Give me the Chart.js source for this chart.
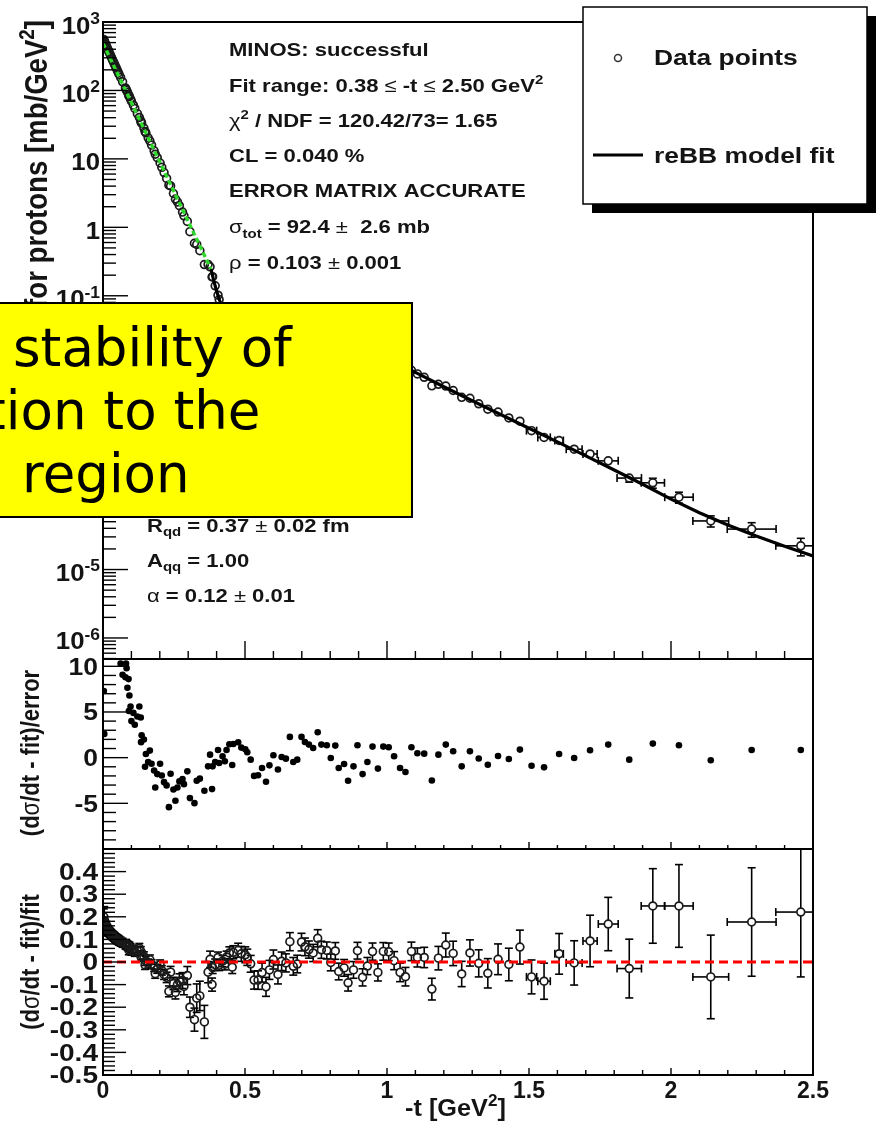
<!DOCTYPE html>
<html>
<head>
<meta charset="utf-8">
<script src="https://cdn.jsdelivr.net/npm/chart.js@4.4.1/dist/chart.umd.min.js"></script>
<style>
  html, body { margin: 0; padding: 0; background: #fff; width: 877px; height: 1123px; overflow: hidden; }
  canvas { position: absolute; left: 0; top: 0; }
</style>
</head>
<body>
<canvas id="cTop" width="877" height="1123"></canvas>
<canvas id="cPull" width="877" height="1123"></canvas>
<canvas id="cRel" width="877" height="1123"></canvas>
<script>
// ---- measured points: -t [GeV^2] ----
const tVals = [
  0.003,0.0045,0.006,0.0075,0.009,0.011,0.013,0.015,0.017,0.019,0.021,0.024,0.027,0.030,0.033,0.036,0.039,0.042,0.045,0.048,0.051,0.054,0.057,
  0.062,0.069,0.079,0.081,0.083,0.086,0.090,0.091,0.093,0.097,
  0.100,0.107,0.112,0.121,0.128,0.133,0.134,0.136,0.144,0.148,
  0.151,0.159,0.165,0.171,0.180,0.184,0.191,0.201,0.207,0.215,
  0.224,0.232,0.238,0.248,0.255,0.262,0.269,0.280,0.285,0.297,
  0.306,0.322,0.330,0.341,0.357,0.370,0.377,0.384,0.386,0.395,
  0.405,0.409,0.421,0.429,0.435,0.445,0.455,0.459,0.476,0.487,
  0.501,0.508,
  0.520,0.532,0.546,0.560,0.574,0.586,0.600,0.616,0.629,0.644,
  0.658,0.670,0.684,0.699,0.711,0.725,0.740,0.756,0.769,0.788,
  0.802,0.818,0.830,0.849,0.863,0.882,0.896,0.914,0.931,0.949,
  0.968,0.987,1.006,1.025,1.046,1.065,1.086,1.107,
  1.131,1.158,1.181,1.207,1.233,1.263,1.292,1.323,1.355,1.391,
  1.429,1.468,1.509,1.553,1.606,1.659,1.715,1.779,1.853,1.936,
  2.028,2.140,2.284,2.457
];
// horizontal half-widths of the t bins
const tErrVals = [
  0.002,0.002,0.002,0.002,0.002,0.002,0.002,0.002,0.002,0.002,0.002,0.002,0.002,0.002,0.002,0.002,0.002,0.002,0.002,0.002,0.002,0.002,0.002,
  0.003,0.003,0.003,0.003,0.003,0.003,0.003,0.003,0.003,0.003,
  0.003,0.003,0.003,0.003,0.003,0.003,0.003,0.003,0.003,0.003,
  0.003,0.003,0.003,0.003,0.003,0.003,0.003,0.003,0.003,0.003,
  0.003,0.003,0.003,0.003,0.003,0.003,0.003,0.003,0.003,0.003,
  0.004,0.004,0.004,0.004,0.004,0.004,0.004,0.004,0.004,0.004,
  0.004,0.004,0.004,0.004,0.004,0.004,0.004,0.004,0.004,0.004,
  0.004,0.004,
  0.006,0.006,0.006,0.006,0.006,0.006,0.006,0.006,0.006,0.006,
  0.006,0.006,0.006,0.006,0.006,0.006,0.006,0.006,0.006,0.006,
  0.006,0.006,0.006,0.006,0.006,0.006,0.006,0.006,0.006,0.006,
  0.006,0.006,0.006,0.006,0.006,0.006,0.006,0.006,
  0.008,0.008,0.008,0.012,0.012,0.012,0.012,0.012,0.012,0.012,
  0.012,0.014,0.018,0.022,0.015,0.028,0.025,0.035,0.043,0.041,
  0.050,0.063,0.086,0.088
];
// d(sigma)/dt [mb/GeV^2]
const dsdtVals = [
  553,528,508,491,474,455,435,416,397,381,365,343,322,302,283,266,249,234,220,207,194,182,171,
  154.7,133.7,108.8,104.8,100.4,94.3,86.7,83.6,81.6,74.8,
  69.7,60.8,54.6,45.8,40.3,36.0,34.4,33.3,28.2,25.1,
  24.0,20.3,18.3,15.9,13.1,11.7,10.4,8.71,7.53,6.30,
  5.19,4.13,4.02,3.12,2.59,2.35,2.07,1.67,1.47,1.22,
  0.865,0.585,0.563,0.456,0.286,0.287,0.265,0.188,0.190,0.140,
  0.102,0.0879,0.0648,0.0532,0.0478,0.0395,0.0302,0.0301,0.0230,0.0197,
  0.0171,0.0162,
  0.0143,0.0128,0.0128,0.0138,0.0138,0.0156,0.0180,0.0184,0.0210,0.0223,
  0.0255,0.0241,0.0249,0.0286,0.0284,0.0283,0.0280,0.0297,0.0277,0.0270,
  0.0251,0.0252,0.0222,0.0213,0.0190,0.0190,0.0198,0.0164,0.0161,0.0158,
  0.0133,0.0135,0.0126,0.0110,0.00954,0.00853,0.00813,0.00722,
  0.00644,0.00483,0.00509,0.0048,0.00413,0.00328,0.00318,0.00264,0.0022,0.0020,
  0.00164,0.00147,0.00107,0.000853,0.000768,0.000573,0.000488,0.000387,0.000217,0.000185,
  0.000114,5.13e-5,3.90e-5,2.22e-5
];
// (dsigma/dt - fit)/fit
const relVals = [
  0.200,0.180,0.170,0.165,0.160,0.155,0.150,0.145,0.140,0.137,0.133,0.130,0.126,0.122,0.118,0.115,0.112,0.108,0.105,0.102,0.100,0.097,0.094,
  0.090,0.085,0.078,0.080,0.076,0.073,0.070,0.052,0.068,0.062,
  0.050,0.055,0.045,0.050,0.062,0.048,0.022,0.030,0.025,-0.013,
  0.005,-0.007,0.011,-0.010,-0.022,-0.052,-0.030,-0.012,-0.037,-0.055,
  -0.068,-0.130,-0.045,-0.095,-0.135,-0.100,-0.085,-0.082,-0.108,-0.060,
  -0.200,-0.255,-0.160,-0.150,-0.265,-0.045,0.012,-0.100,-0.025,-0.012,
  0.020,-0.014,0.004,-0.010,0.022,0.040,-0.023,0.043,0.052,0.036,
  0.032,0.021,
  -0.008,-0.080,-0.080,-0.047,-0.110,-0.035,0.011,-0.055,0.003,-0.004,
  0.090,-0.019,-0.009,0.088,0.067,0.055,0.040,0.105,0.054,0.051,
  -0.002,0.049,-0.042,-0.026,-0.092,-0.035,0.050,-0.068,-0.018,0.046,
  -0.046,0.047,0.045,0.006,-0.046,-0.065,0.047,0.020,
  0.020,-0.120,0.017,0.075,0.038,-0.053,0.040,-0.006,-0.050,0.012,
  -0.011,0.066,-0.066,-0.085,0.036,-0.004,0.093,0.168,-0.029,0.248,
  0.248,-0.066,0.177,0.221
];
// total relative uncertainty of each point
const relErrVals = [
  0.035,0.065,0.022,0.022,0.022,0.021,0.021,0.021,0.021,0.020,0.020,0.020,0.020,0.020,0.020,0.020,0.020,0.020,0.020,0.020,0.020,0.020,0.020,
  0.020,0.020,0.020,0.020,0.020,0.020,0.020,0.020,0.020,0.020,
  0.020,0.020,0.020,0.020,0.020,0.020,0.020,0.020,0.020,0.020,
  0.020,0.020,0.020,0.020,0.020,0.020,0.020,0.021,0.021,0.022,
  0.023,0.024,0.0255,0.027,0.0286,0.0307,0.0327,0.035,0.037,0.040,
  0.045,0.051,0.063,0.065,0.073,0.047,0.036,0.029,0.026,0.025,
  0.024,0.024,0.025,0.025,0.026,0.027,0.028,0.029,0.031,0.033,
  0.035,0.036,
  0.037,0.040,0.041,0.042,0.042,0.042,0.042,0.042,0.041,0.040,
  0.040,0.039,0.039,0.039,0.039,0.038,0.038,0.038,0.038,0.0375,
  0.037,0.037,0.037,0.037,0.0365,0.037,0.037,0.038,0.038,0.038,
  0.038,0.039,0.039,0.040,0.041,0.041,0.041,0.042,
  0.045,0.048,0.052,0.053,0.054,0.056,0.058,0.060,0.065,0.068,
  0.072,0.075,0.075,0.080,0.090,0.098,0.114,0.118,0.130,0.165,
  0.183,0.185,0.240,0.287
];
// (dsigma/dt - fit)/error ; null = beyond the panel range
const pullVals = [
  7.3,2.6,null,null,null,null,null,null,null,null,null,null,null,null,null,null,null,null,null,null,null,null,null,
  10.3,9.07,8.8,10.3,9.8,7.65,8.6,5.1,6.8,5.6,
  4.0,4.9,3.6,4.5,5.6,4.4,1.7,2.46,1.98,-0.99,
  0.4,-0.48,0.77,-0.66,-1.4,-3.26,-1.8,-0.66,-1.95,-2.68,
  -3.04,-5.42,-1.76,-3.48,-4.72,-3.26,-2.6,-2.35,-2.9,-1.5,
  -4.43,-4.98,-2.53,-2.3,-3.62,-0.95,0.33,-3.44,-0.95,-0.48,
  0.84,-0.59,0.15,-0.4,0.84,1.46,-0.81,1.5,1.68,1.1,
  0.92,0.59,
  -0.22,-2.0,-1.93,-1.13,-2.63,-0.84,0.26,-1.3,0.07,-0.11,
  2.27,-0.48,-0.22,2.27,1.72,1.43,1.06,2.78,1.43,1.36,
  -0.04,1.32,-1.13,-0.7,-2.53,-0.95,1.36,-1.8,-0.48,1.21,
  -1.2,1.21,1.14,0.15,-1.13,-1.57,1.14,0.48,
  0.44,-2.5,0.33,1.43,0.7,-0.95,0.7,-0.1,-0.77,0.18,
  -0.15,0.88,-0.88,-1.06,0.4,-0.04,0.81,1.43,-0.22,1.54,
  1.36,-0.29,0.84,0.84
];

// ---- reBB model curve ----
const fitLowT = [0, 0.05, 0.10, 0.15, 0.20, 0.25, 0.30, 0.35, 0.38];      // outside fit range
const fitLowV = [490, 180, 66.4, 24.4, 9.0, 3.31, 1.22, 0.449, 0.247];
const fitT = [0.38,0.39,0.40,0.41,0.42,0.44,0.46,0.48,0.50,0.52,0.54,0.56,0.58,0.60,0.65,0.70,0.75,0.80,0.85,0.90,
              0.95,1.00,1.05,1.10,1.20,1.30,1.40,1.50,1.60,1.70,1.80,1.90,2.00,2.10,2.20,2.30,2.40,2.50];
const fitV = [0.247,0.166,0.117,0.0871,0.0661,0.0417,0.0282,0.0209,0.0166,0.0145,0.0138,0.0145,0.0158,0.0178,0.0229,0.0263,
              0.0269,0.0251,0.0219,0.0186,0.0151,0.0123,0.00977,0.00759,0.00468,0.00292,0.00184,0.00116,0.000733,0.000457,
              0.000285,0.000176,0.000107,6.76e-5,4.47e-5,3.09e-5,2.19e-5,1.58e-5];

// ---- axis ticks ----
const xTickValues = [0, 0.5, 1, 1.5, 2, 2.5];
const xTickLabels = ['0', '0.5', '1', '1.5', '2', '2.5'];
const topTickValues = [1e3, 1e2, 1e1, 1, 1e-1, 1e-2, 1e-3, 1e-4, 1e-5, 1e-6];
const topTickBase   = ['10','10','10','1','10','10','10','10','10','10'];
const topTickExp    = ['3','2','','','-1','-2','-3','-4','-5','-6'];
const pullTickValues = [10, 5, 0, -5];
const pullTickLabels = ['10', '5', '0', '-5'];
const relTickValues = [0.4, 0.3, 0.2, 0.1, 0, -0.1, -0.2, -0.3, -0.4, -0.5];
const relTickLabels = ['0.4','0.3','0.2','0.1','0','-0.1','-0.2','-0.3','-0.4','-0.5'];

// ---- drawing helpers ----
const FONT = '"Liberation Sans", Arial, Helvetica, sans-serif';
const INK = '#141414';
const CLEAR = 'rgba(0,0,0,0)';

function line(ctx, x1, y1, x2, y2) { ctx.beginPath(); ctx.moveTo(x1, y1); ctx.lineTo(x2, y2); ctx.stroke(); }
function segSize(s, size) { return (s === 'sup' || s === 'sub') ? size * 0.68 : size; }
function segDy(s, size) { return s === 'sup' ? -size * 0.42 : (s === 'sub' ? size * 0.26 : 0); }
function setFont(ctx, s, size) { ctx.font = (s === 'g' ? '' : 'bold ') + size.toFixed(1) + 'px ' + FONT; }
function richWidth(ctx, segs, size) {
  let w = 0;
  for (const [t, s] of segs) { setFont(ctx, s, segSize(s, size)); w += ctx.measureText(t).width; }
  return w;
}
// text made of plain / greek / sub / sup pieces; sx stretches glyphs horizontally
function drawRich(ctx, x, y, segs, size, align, sx) {
  ctx.save();
  ctx.translate(x, y);
  ctx.scale(sx || 1, 1);
  const w = richWidth(ctx, segs, size);
  let cx = align === 'right' ? -w : (align === 'center' ? -w / 2 : 0);
  ctx.textAlign = 'left';
  ctx.textBaseline = 'alphabetic';
  for (const [t, s] of segs) {
    setFont(ctx, s, segSize(s, size));
    ctx.fillText(t, cx, segDy(s, size));
    cx += ctx.measureText(t).width;
  }
  ctx.restore();
}
function drawRichVertical(ctx, x, y, segs, size, align, sy) {
  ctx.save();
  ctx.translate(x, y);
  ctx.rotate(-Math.PI / 2);
  ctx.scale(1, sy || 1);
  drawRich(ctx, 0, 0, segs, size, align, 1);
  ctx.restore();
}
function drawFrame(chart) {
  const ctx = chart.ctx, a = chart.chartArea;
  ctx.save();
  ctx.strokeStyle = '#000';
  ctx.lineWidth = 2;
  ctx.strokeRect(a.left, a.top, a.right - a.left, a.bottom - a.top);
  ctx.restore();
}
// x ticks pointing up from the bottom edge of a pad
function drawXTicks(chart, major, minor) {
  const ctx = chart.ctx, xs = chart.scales.x, b = chart.chartArea.bottom;
  ctx.save(); ctx.strokeStyle = '#000'; ctx.lineWidth = 1.4;
  for (let i = 0; i <= 25; i++) {
    const x = xs.getPixelForValue(i / 10);
    line(ctx, x, b, x, b - (i % 5 === 0 ? major : minor));
  }
  ctx.restore();
}
function drawLinearYTicks(chart, lo, hi, step, every, major, minor) {
  const ctx = chart.ctx, ys = chart.scales.y, l = chart.chartArea.left;
  ctx.save(); ctx.strokeStyle = '#000'; ctx.lineWidth = 1.4;
  const n = Math.round((hi - lo) / step);
  for (let i = 0; i <= n; i++) {
    const y = ys.getPixelForValue(lo + i * step);
    line(ctx, l, y, l + (i % every === 0 ? major : minor), y);
  }
  ctx.restore();
}
function drawLogYTicks(chart, major, minor) {
  const ctx = chart.ctx, ys = chart.scales.y, l = chart.chartArea.left;
  ctx.save(); ctx.strokeStyle = '#000'; ctx.lineWidth = 1.4;
  for (let e = -7; e <= 3; e++) {
    for (let m = 1; m <= 9; m++) {
      const v = m * Math.pow(10, e);
      if (v < ys.min * 0.999 || v > ys.max * 1.001) continue;
      const y = ys.getPixelForValue(v);
      line(ctx, l, y, l + (m === 1 ? major : minor), y);
    }
  }
  ctx.restore();
}
// error bars drawn outside the marker, with end caps
function drawErrorBars(chart, yVals, yLo, yHi, r, cap) {
  const ctx = chart.ctx, xs = chart.scales.x, ys = chart.scales.y, a = chart.chartArea;
  ctx.save();
  ctx.beginPath(); ctx.rect(a.left, a.top, a.right - a.left, a.bottom - a.top); ctx.clip();
  ctx.strokeStyle = '#000'; ctx.lineWidth = 1.6;
  for (let i = 0; i < tVals.length; i++) {
    if (yVals[i] == null) continue;
    const px = xs.getPixelForValue(tVals[i]);
    const py = ys.getPixelForValue(yVals[i]);
    const pLo = ys.getPixelForValue(yLo[i]);
    const pHi = ys.getPixelForValue(yHi[i]);
    const pL = xs.getPixelForValue(tVals[i] - tErrVals[i]);
    const pR = xs.getPixelForValue(tVals[i] + tErrVals[i]);
    if (pLo - py > r) { line(ctx, px, py + r, px, pLo); line(ctx, px - cap, pLo, px + cap, pLo); }
    if (py - pHi > r) { line(ctx, px, py - r, px, pHi); line(ctx, px - cap, pHi, px + cap, pHi); }
    if (px - pL > r) { line(ctx, pL, py, px - r, py); line(ctx, pL, py - cap, pL, py + cap); }
    if (pR - px > r) { line(ctx, px + r, py, pR, py); line(ctx, pR, py - cap, pR, py + cap); }
  }
  ctx.restore();
}
function xy(xs, ys) { return xs.map((x, i) => ({ x: x, y: ys[i] })); }

const baseOptions = (padding, yScale) => ({
  responsive: false,
  animation: false,
  devicePixelRatio: 1,
  events: [],
  layout: { padding: padding },
  plugins: { legend: { display: false }, tooltip: { enabled: false } },
  scales: {
    x: { type: 'linear', min: 0, max: 2.5, display: false },
    y: Object.assign({ display: false }, yScale)
  }
});

// ================= upper pad: d(sigma)/dt =================
const dsdtLo = dsdtVals.map((v, i) => v * (1 - relErrVals[i]));
const dsdtHi = dsdtVals.map((v, i) => v * (1 + relErrVals[i]));

new Chart(document.getElementById('cTop'), {
  type: 'scatter',
  data: {
    datasets: [
      { data: xy(fitLowT, fitLowV), showLine: true, borderColor: '#2fd82a', borderWidth: 3.4,
        borderDash: [5, 3], pointRadius: 0, clip: 0 },
      { data: xy(fitT, fitV), showLine: true, borderColor: '#000', borderWidth: 3.2, pointRadius: 0, clip: 0 },
      { data: xy(tVals, dsdtVals), pointRadius: 3.9, pointBorderWidth: 1.7,
        pointBorderColor: '#1a1a1a', pointBackgroundColor: CLEAR, clip: 0 }
    ]
  },
  options: baseOptions({ left: 103, top: 22, right: 64, bottom: 464 },
                       { type: 'logarithmic', min: 4.93e-7, max: 1000 }),
  plugins: [{
    id: 'topPad',
    beforeDatasetsDraw(chart) { drawErrorBars(chart, dsdtVals, dsdtLo, dsdtHi, 4, 4); },
    afterDraw(chart) {
      const ctx = chart.ctx, ys = chart.scales.y;
      drawFrame(chart);
      drawXTicks(chart, 18, 8);
      drawLogYTicks(chart, 25, 13);
      ctx.fillStyle = INK;
      // y tick labels (10^n)
      topTickValues.forEach((v, i) => {
        const y = ys.getPixelForValue(v);
        drawRich(ctx, 100, y + 11.5, [[topTickBase[i], 'b'], [topTickExp[i], 'sup']], 23, 'right', 1.12);
      });
      // y title
      drawRichVertical(ctx, 47, 20,
        [['d', 'b'], ['\u03c3', 'g'], ['/dt for protons [mb/GeV', 'b'], ['2', 'sup'], [']', 'b']], 27.6, 'right', 1.15);
      // fit summary
      const sx = 1.16, fs = 19;
      const notes = [
        [55.5, [['MINOS: successful', 'b']]],
        [91.5, [['Fit range: 0.38 ', 'b'], ['\u2264', 'g'], [' -t ', 'b'], ['\u2264', 'g'], [' 2.50 GeV', 'b'], ['2', 'sup']]],
        [126.5, [['\u03c7', 'g'], ['2', 'sup'], [' / NDF = 120.42/73= 1.65', 'b']]],
        [162, [['CL = 0.040 %', 'b']]],
        [197, [['ERROR MATRIX ACCURATE', 'b']]],
        [233, [['\u03c3', 'g'], ['tot', 'sub'], [' = 92.4 ', 'b'], ['\u00b1', 'g'], ['  2.6 mb', 'b']]],
        [269, [['\u03c1', 'g'], [' = 0.103 ', 'b'], ['\u00b1', 'g'], [' 0.001', 'b']]]
      ];
      notes.forEach(([y, segs]) => drawRich(ctx, 229, y, segs, fs, 'left', sx));
      const notes2 = [
        [531.5, [['R', 'b'], ['qd', 'sub'], [' = 0.37 ', 'b'], ['\u00b1', 'g'], [' 0.02 fm', 'b']]],
        [566.5, [['A', 'b'], ['qq', 'sub'], [' = 1.00', 'b']]],
        [601.5, [['\u03b1', 'g'], [' = 0.12 ', 'b'], ['\u00b1', 'g'], [' 0.01', 'b']]]
      ];
      notes2.forEach(([y, segs]) => drawRich(ctx, 147, y, segs, fs, 'left', sx));

      // legend with drop shadow
      ctx.save();
      ctx.fillStyle = '#000';
      ctx.fillRect(592, 16, 284, 197);
      ctx.fillStyle = '#fff';
      ctx.fillRect(583, 7, 284, 197);
      ctx.strokeStyle = '#000'; ctx.lineWidth = 1.5;
      ctx.strokeRect(583, 7, 284, 197);
      ctx.beginPath(); ctx.arc(618, 58, 3.5, 0, Math.PI * 2);
      ctx.strokeStyle = '#333'; ctx.lineWidth = 1.5; ctx.stroke();
      ctx.strokeStyle = '#000'; ctx.lineWidth = 3.2;
      line(ctx, 593, 155, 643, 155);
      ctx.fillStyle = INK;
      drawRich(ctx, 654, 65, [['Data points', 'b']], 22, 'left', 1.2);
      drawRich(ctx, 654, 163, [['reBB model fit', 'b']], 22, 'left', 1.2);
      ctx.restore();

      // call-out box
      ctx.save();
      ctx.fillStyle = '#ffff00';
      ctx.fillRect(-5, 303, 417, 214);
      ctx.strokeStyle = '#000'; ctx.lineWidth = 2;
      ctx.strokeRect(-5, 303, 417, 214);
      ctx.fillStyle = '#000';
      ctx.font = '53px "DejaVu Sans", Verdana, sans-serif';
      ctx.textAlign = 'left'; ctx.textBaseline = 'alphabetic';
      ctx.fillText('stability of', 13, 366);
      ctx.fillText('tion to the', -15, 429);
      ctx.fillText('region', 22, 492);
      ctx.restore();
    }
  }]
});

// ================= middle pad: pulls =================
new Chart(document.getElementById('cPull'), {
  type: 'scatter',
  data: {
    datasets: [
      { data: xy(tVals, pullVals), pointRadius: 3.3, pointBorderWidth: 0,
        pointBackgroundColor: '#000', clip: 0 }
    ]
  },
  options: baseOptions({ left: 103, top: 659, right: 64, bottom: 274 },
                       { type: 'linear', min: -10, max: 10.8 }),
  plugins: [{
    id: 'pullPad',
    afterDraw(chart) {
      const ctx = chart.ctx, ys = chart.scales.y;
      drawFrame(chart);
      drawXTicks(chart, 7, 4);
      drawLinearYTicks(chart, -10, 10, 1, 5, 25, 13);
      ctx.fillStyle = INK;
      pullTickValues.forEach((v, i) => {
        drawRich(ctx, 98, ys.getPixelForValue(v) + 8.2, [[pullTickLabels[i], 'b']], 23, 'right', 1.15);
      });
      drawRichVertical(ctx, 39, 753,
        [['(d', 'b'], ['\u03c3', 'g'], ['/dt - fit)/error', 'b']], 22, 'center', 1.2);
    }
  }]
});

// ================= lower pad: relative difference =================
const relLo = relVals.map((v, i) => v - relErrVals[i]);
const relHi = relVals.map((v, i) => v + relErrVals[i]);

new Chart(document.getElementById('cRel'), {
  type: 'scatter',
  data: {
    datasets: [
      { data: [{ x: 0, y: 0 }, { x: 2.5, y: 0 }], showLine: true, borderColor: '#ff0000',
        borderWidth: 3, borderDash: [9, 5], pointRadius: 0, clip: 0 },
      { data: xy(tVals, relVals), pointRadius: 3.9, pointBorderWidth: 1.7,
        pointBorderColor: '#1a1a1a', pointBackgroundColor: CLEAR, clip: 0 }
    ]
  },
  options: baseOptions({ left: 103, top: 849, right: 64, bottom: 48 },
                       { type: 'linear', min: -0.5, max: 0.5 }),
  plugins: [{
    id: 'relPad',
    beforeDatasetsDraw(chart) { drawErrorBars(chart, relVals, relLo, relHi, 4, 4); },
    afterDraw(chart) {
      const ctx = chart.ctx, xs = chart.scales.x, ys = chart.scales.y;
      drawFrame(chart);
      drawXTicks(chart, 7, 5);
      drawLinearYTicks(chart, -0.5, 0.5, 0.02, 5, 23, 12);
      ctx.fillStyle = INK;
      relTickValues.forEach((v, i) => {
        drawRich(ctx, 98, ys.getPixelForValue(v) + 8.2, [[relTickLabels[i], 'b']], 23, 'right', 1.22);
      });
      xTickValues.forEach((v, i) => {
        drawRich(ctx, xs.getPixelForValue(v), 1098, [[xTickLabels[i], 'b']], 23, 'center', 1.0);
      });
      drawRichVertical(ctx, 39, 962,
        [['(d', 'b'], ['\u03c3', 'g'], ['/dt - fit)/fit', 'b']], 22, 'center', 1.2);
      drawRich(ctx, 405, 1116, [['-t [GeV', 'b'], ['2', 'sup'], [']', 'b']], 23, 'left', 1.1);
    }
  }]
});
</script>
</body>
</html>
